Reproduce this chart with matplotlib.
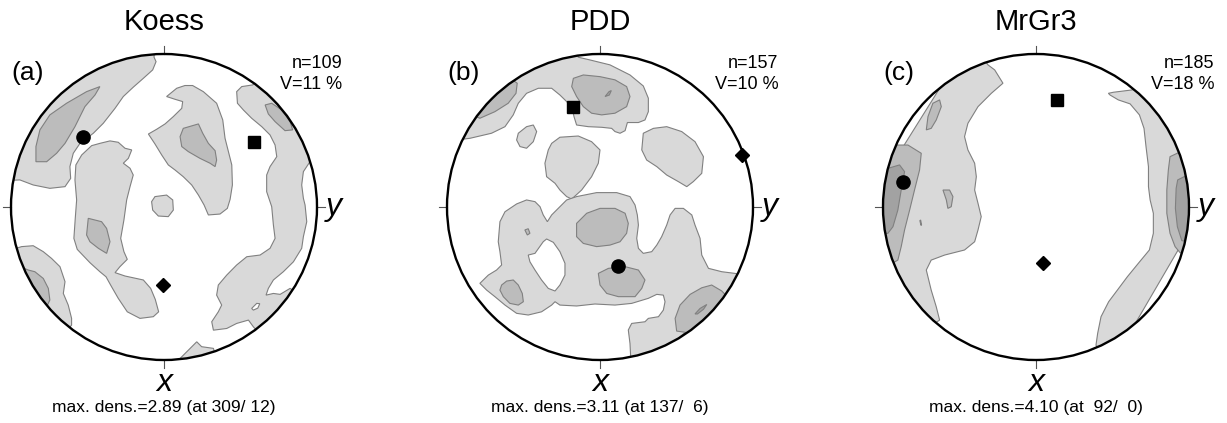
import numpy as np
import matplotlib
matplotlib.use('Agg')
import matplotlib.pyplot as plt
from matplotlib.patches import Polygon, Circle

plt.rcParams['font.family'] = ['Liberation Sans', 'DejaVu Sans']

# digitised contour outlines, lower-hemisphere net, net radius = 100
# ---------------- Koess ----------------
koess_light = [
    [(-6.5, 97.9), (-5.2, 95.0), (-7.4, 89.6), (-13.5, 84.1), (-20.1, 78.3), (-26.6, 72.2),
     (-32.0, 64.5), (-39.7, 54.7), (-46.2, 48.2), (-54.9, 41.6), (-59.3, 35.1), (-61.5, 26.4),
     (-61.0, 18.7), (-64.7, 13.3), (-74.6, 12.2), (-85.5, 14.4), (-94.2, 17.7),
     (-110, 17), (-110, 110), (-6, 110)],
    [(-47.3, 40.1), (-41.9, 41.6), (-35.3, 43.2), (-29.9, 42.3), (-25.5, 38.4), (-21.1, 37.3),
     (-23.3, 31.8), (-26.6, 28.6), (-22.2, 25.3), (-20.1, 20.9), (-22.2, 13.3), (-24.4, 4.6),
     (-26.2, -8.5), (-28.3, -20.5), (-26.2, -29.2), (-24.0, -34.2), (-28.8, -39.0), (-32.0, -42.9),
     (-25.5, -45.1), (-13.5, -47.7), (-8.7, -53.2), (-5.7, -60.4), (-3.5, -68.5), (-7.0, -71.7),
     (-15.7, -72.8), (-24.0, -68.5), (-29.9, -59.7), (-34.9, -51.0), (-37.9, -45.6), (-41.9, -42.3),
     (-48.4, -36.4), (-56.7, -27.7), (-58.9, -20.5), (-58.0, -7.4), (-57.1, 4.6), (-58.2, 17.7),
     (-57.6, 27.5), (-53.8, 34.0)],
    [(1.7, 72.2), (8.3, 77.6), (13.7, 79.4), (18.7, 79.4), (25.7, 75.4), (34.4, 67.8), (38.4, 56.9),
     (39.9, 44.9), (42.1, 36.2), (44.3, 27.5), (44.7, 14.4), (43.2, 5.0), (41.4, -0.9), (36.6, -4.6),
     (29.0, -5.2), (26.2, 1.3), (22.5, 7.8), (18.1, 14.4), (12.6, 19.8), (7.2, 24.2), (2.8, 27.5),
     (-1.5, 34.0), (-5.9, 41.2), (-10.2, 47.7), (-4.8, 50.8), (0.7, 54.3), (6.1, 59.1),
     (11.6, 64.5), (12.2, 68.9), (7.2, 70.4)],
    [(-5.9, 6.8), (1.7, 7.8), (5.7, 4.6), (6.1, -2.0), (2.8, -6.3), (-3.7, -5.9), (-7.4, -2.0), (-8.1, 3.5)],
    [(47.5, 75.4), (50.8, 78.7), (58.0, 79.8), (67.1, 87.4), (108.6, 39.5), (95.0, 29.0), (91.1, 23.1),
     (90.0, 14.4), (91.1, 5.7), (92.2, 1.3), (93.3, -9.6), (91.1, -19.4), (90.0, -27.0), (84.6, -35.8),
     (78.0, -42.3), (71.5, -47.7), (68.2, -53.2), (66.7, -57.6), (71.5, -56.5), (75.9, -57.1),
     (82.4, -53.2), (99.8, -64.1), (69.3, -90.3), (58.4, -78.3), (55.2, -73.9), (47.5, -76.1),
     (41.0, -79.4), (32.3, -80.5), (31.2, -75.0), (35.5, -68.5), (37.7, -64.1), (34.4, -57.6),
     (35.5, -51.0), (41.0, -44.5), (47.5, -37.9), (54.1, -32.5), (62.8, -31.4), (69.3, -27.0),
     (72.6, -20.5), (71.5, -11.8), (70.4, 0.2), (67.1, 10.0), (67.1, 20.9), (69.3, 26.4),
     (73.7, 32.9), (72.6, 40.5), (69.3, 47.1), (63.9, 52.5), (57.3, 58.0), (51.9, 63.4), (48.0, 67.8)],
    [(-93.1, -25.9), (-85.5, -25.3), (-78.9, -29.2), (-73.5, -33.6), (-68.0, -39.0), (-64.7, -48.8),
     (-65.8, -56.5), (-62.6, -64.1), (-60.4, -72.8), (-60.4, -77.2), (-74.6, -93.5), (-107, -30.3)],
    [(10.5, -99.0), (21.4, -88.1), (24.6, -91.3), (32.3, -92.4), (36.6, -106.6), (6.1, -106.6)],
]
koess_holes = [
    [(57.3, -66.3), (60.6, -63.0), (62.6, -63.2), (61.3, -66.1), (58.4, -67.4)],
]
koess_mid = [
    [(-41.9, 78.7), (-50.6, 75.4), (-63.7, 67.8), (-74.6, 60.2), (-81.1, 50.4), (-83.7, 39.5),
     (-83.7, 29.6), (-76.7, 29.6), (-70.2, 35.1), (-64.7, 41.6), (-58.2, 52.5), (-51.7, 65.6), (-45.1, 73.2)],
    [(-49.5, -7.4), (-40.8, -9.6), (-37.5, -14.0), (-35.3, -22.7), (-37.5, -30.3), (-42.9, -27.0),
     (-48.4, -22.7), (-50.6, -18.3)],
    [(12.6, 51.4), (22.5, 54.3), (25.3, 48.2), (29.0, 41.6), (33.4, 36.8), (34.4, 30.7), (33.4, 26.4),
     (30.1, 28.6), (23.5, 31.8), (15.9, 36.2), (11.6, 39.5), (10.5, 46.0)],
    [(66.1, 66.7), (70.4, 67.8), (77.0, 63.4), (82.4, 55.8), (84.1, 50.4), (79.1, 49.9), (72.6, 55.8), (68.2, 60.8)],
    [(-88.7, -41.2), (-84.4, -42.3), (-78.9, -46.7), (-75.6, -53.2), (-74.6, -60.8), (-76.7, -65.2),
     (-94.2, -60.8), (-94.2, -39.0)],
]
koess_dark = []
koess_marks = {'o': (-52.8, 46.0), 's': (58.9, 42.7), 'D': (-0.4, -51.0)}

# ---------------- PDD ----------------
pdd_light = [
    [(-93.7, 43.8), (-91.6, 91.8), (-19.6, 113.6), (-14.2, 97.9), (-6.5, 96.1), (6.5, 92.9),
     (19.6, 86.3), (28.3, 79.1), (31.6, 71.1), (31.6, 62.3), (29.4, 56.9), (25.1, 55.2), (17.9, 55.2),
     (16.4, 49.9), (13.1, 48.2), (9.8, 49.3), (7.6, 51.4), (1.1, 52.1), (-7.6, 52.5), (-15.3, 53.6),
     (-17.0, 59.1), (-18.1, 64.5), (-21.8, 68.9), (-26.2, 73.2), (-31.6, 77.6), (-40.3, 77.6),
     (-48.0, 74.3), (-53.4, 67.8), (-56.7, 60.2), (-62.1, 52.5), (-70.9, 48.2), (-85.0, 44.9)],
    [(-53.4, 48.2), (-48.0, 52.5), (-43.6, 53.6), (-41.4, 49.3), (-43.6, 42.7), (-48.0, 38.4),
     (-52.3, 39.5), (-54.5, 43.8)],
    [(-31.6, 41.6), (-26.2, 45.6), (-14.2, 46.4), (-5.5, 42.7), (0.0, 37.3), (-1.1, 28.6), (-5.5, 19.8),
     (-12.0, 11.1), (-18.5, 5.2), (-21.8, 6.8), (-26.2, 11.1), (-29.4, 15.5), (-34.9, 19.8),
     (-36.0, 28.6), (-33.8, 37.3)],
    [(28.3, 48.2), (34.9, 51.4), (43.6, 52.5), (53.4, 49.3), (62.1, 42.7), (67.6, 32.9), (66.5, 22.0),
     (61.0, 16.6), (56.7, 13.3), (51.2, 16.6), (43.6, 20.9), (37.1, 26.4), (30.5, 30.7), (27.3, 37.3)],
    [(-65.4, -9.6), (-62.1, -3.1), (-54.5, 2.0), (-48.0, 4.6), (-42.5, 3.5), (-39.2, 0.2), (-37.1, -5.2),
     (-34.4, -9.6), (-31.6, -5.2), (-27.3, -0.9), (-21.8, 4.6), (-15.3, 6.8), (-2.2, 9.4), (10.9, 9.4),
     (19.6, 6.8), (22.9, 1.3), (24.4, -5.2), (25.1, -11.8), (24.0, -20.5), (25.1, -27.0), (28.3, -30.3),
     (33.8, -29.2), (37.1, -24.9), (40.3, -19.4), (43.6, -11.8), (45.8, -5.2), (49.1, -0.9), (54.5, -0.9),
     (60.0, -5.2), (62.1, -11.8), (65.4, -20.5), (66.5, -31.4), (70.9, -40.1), (79.6, -42.3),
     (88.3, -43.4), (95.9, -45.6), (28.3, -106.6), (20.1, -99.0), (19.6, -89.2), (18.5, -80.4),
     (20.7, -76.1), (29.4, -75.0), (31.6, -72.8), (38.2, -71.7), (41.4, -67.4), (42.5, -61.9),
     (41.4, -57.6), (37.1, -57.1), (31.6, -59.7), (20.7, -63.0), (9.8, -64.1), (-3.3, -63.4),
     (-15.3, -64.7), (-26.2, -64.1), (-29.4, -61.9), (-31.6, -64.1), (-38.2, -68.5), (-46.9, -70.6),
     (-54.5, -69.5), (-62.1, -64.1), (-68.7, -58.6), (-74.1, -54.3), (-78.5, -49.9), (-73.0, -44.5),
     (-67.6, -41.2), (-64.3, -37.9), (-65.4, -29.2), (-66.5, -22.7)],
]
pdd_holes = [
    [(-46.9, -31.4), (-42.5, -30.3), (-37.1, -22.7), (-34.9, -20.9), (-30.5, -23.1), (-26.2, -29.2),
     (-22.9, -36.8), (-22.9, -44.5), (-26.2, -51.0), (-29.4, -54.9), (-33.8, -53.2), (-38.2, -47.7),
     (-42.5, -41.2), (-45.8, -35.8)],
]
pdd_mid = [
    [(-78.5, 58.0), (-68.7, 62.3), (-60.0, 67.8), (-54.9, 74.3), (-54.1, 80.9), (-69.8, 91.8), (-91.6, 63.4)],
    [(-17.4, 84.1), (-10.9, 86.3), (0.0, 85.2), (9.8, 83.1), (17.4, 78.7), (19.6, 72.2), (17.4, 65.6),
     (9.8, 61.3), (1.1, 60.2), (-5.5, 61.3), (-10.9, 65.6), (-15.3, 72.2), (-18.5, 78.7)],
    [(-15.3, -10.7), (-8.7, -4.1), (0.0, -0.9), (9.8, -0.9), (16.4, -4.1), (18.5, -10.7), (17.4, -17.2),
     (13.1, -22.7), (6.5, -24.9), (-2.2, -25.9), (-10.9, -23.8), (-15.3, -19.4)],
    [(-1.1, -43.4), (5.5, -40.1), (16.4, -39.0), (25.1, -41.2), (29.4, -47.7), (27.3, -53.2),
     (22.9, -58.6), (12.0, -58.6), (4.4, -56.5), (0.0, -51.0)],
    [(49.1, -72.8), (52.3, -64.1), (58.9, -57.1), (66.5, -52.8), (73.0, -51.0), (79.6, -54.9),
     (88.3, -64.1), (66.5, -90.3), (57.8, -82.2), (50.1, -81.1)],
    [(-64.3, -51.0), (-61.0, -48.4), (-56.7, -47.7), (-53.4, -51.0), (-50.8, -56.5), (-50.1, -61.9),
     (-53.4, -64.1), (-58.9, -63.0), (-63.2, -58.6), (-65.4, -54.3)],
    [(-49.1, -15.0), (-46.9, -14.2), (-45.8, -17.2), (-47.5, -18.3)],
]
pdd_dark = [
    [(3.3, 72.2), (5.9, 75.4), (7.4, 76.1), (6.1, 73.2)],
    [(62.1, -69.9), (65.4, -66.3), (69.8, -63.7), (67.6, -66.9), (63.7, -69.9)],
]
pdd_marks = {'o': (12.0, -38.4), 's': (-17.9, 65.2), 'D': (93.1, 34.0)}

# ---------------- MrGr3 ----------------
mrgr_light = [
    [(-31.4, 92.9), (-27.0, 89.6), (-21.6, 80.9), (-29.2, 74.3), (-37.9, 65.6), (-44.5, 54.7),
     (-46.7, 46.0), (-44.5, 37.3), (-40.1, 28.6), (-39.0, 19.8), (-40.1, 11.1), (-37.9, 2.4),
     (-35.8, -6.3), (-37.9, -15.0), (-40.1, -22.7), (-46.7, -28.1), (-59.7, -31.4), (-68.5, -34.7),
     (-71.7, -41.2), (-68.5, -54.3), (-65.2, -65.2), (-63.0, -73.9), (-75.9, -82.6),
     (-108.6, 4.6), (-43.2, 109.2)],
    [(47.3, 74.3), (50.6, 75.0), (62.6, 76.5), (76.7, 80.9), (109.4, 0.2), (48.4, -104.4),
     (39.2, -90.3), (40.3, -82.6), (42.5, -71.7), (47.5, -61.9), (53.2, -54.3), (59.7, -45.6),
     (66.9, -36.8), (74.1, -28.1), (76.7, -17.2), (76.7, -4.1), (74.6, 4.6), (73.5, 13.3),
     (73.5, 26.4), (71.9, 39.5), (70.6, 51.4), (67.6, 60.2), (61.5, 67.4), (53.8, 70.0), (48.4, 73.2)],
]
mrgr_holes = []
mrgr_mid = [
    [(-91.3, 40.5), (-83.7, 40.5), (-75.0, 35.1), (-76.1, 24.2), (-79.4, 11.1), (-82.6, -2.0),
     (-85.9, -15.0), (-88.1, -25.9), (-90.3, -34.7), (-97.7, -39.0), (-108.6, 4.6), (-97.7, 41.6)],
    [(-71.7, 50.4), (-70.6, 59.1), (-67.4, 67.8), (-63.0, 70.0), (-61.9, 65.6), (-65.2, 56.9), (-68.5, 51.4)],
    [(-60.8, 11.1), (-56.5, 11.1), (-54.3, 6.8), (-55.4, 0.2), (-57.6, -0.9), (-58.6, 4.6)],
    [(-75.4, -8.5), (-74.8, -11.8), (-75.2, -12.0), (-75.9, -8.9)],
    [(87.6, 32.9), (93.1, 35.5), (109.4, 37.3), (109.4, -34.7), (94.2, -29.9), (90.9, -25.9),
     (87.6, -17.2), (85.5, -4.1), (85.5, 11.1), (86.5, 24.2)],
]
mrgr_dark = [
    [(-96.6, 25.3), (-89.2, 27.5), (-85.9, 23.1), (-88.1, 11.1), (-90.3, -2.0), (-93.5, -12.9),
     (-96.8, -17.2), (-110, -18), (-110, 26)],
    [(92.6, 17.7), (96.8, 19.8), (109.4, 19.8), (109.4, -23.8), (95.3, -22.0), (92.4, -12.9),
     (91.1, -0.9), (91.6, 12.2)],
]
mrgr_marks = {'o': (-86.8, 16.6), 's': (14.0, 70.0), 'D': (4.8, -36.8)}

titles = ['Koess', 'PDD', 'MrGr3']
letters = ['(a)', '(b)', '(c)']
n_values = [109, 157, 185]
v_values = [11, 10, 18]
max_dens = ['max. dens.=2.89 (at 309/ 12)', 'max. dens.=3.11 (at 137/  6)', 'max. dens.=4.10 (at  92/  0)']

LIGHT = '#d9d9d9'
MID = '#bcbcbc'
DARK = '#a2a2a2'
EDGE = '#808080'


def draw_net(ax, title, letter, n, v, dens, light, holes, mid, dark, marks):
    rim = Circle((0, 0), 1.0, fill=False, edgecolor='none')
    ax.add_patch(rim)
    layers = [(light, LIGHT), (holes, 'white'), (mid, MID), (dark, DARK)]
    for polys, color in layers:
        for pts in polys:
            p = Polygon(np.array(pts) / 100.0, closed=True, facecolor=color,
                        edgecolor=EDGE, linewidth=0.8)
            ax.add_patch(p)
            p.set_clip_path(rim)
    ax.add_patch(Circle((0, 0), 1.0, fill=False, edgecolor='black', linewidth=1.7, zorder=5))
    tk = 0.05
    for x0, y0, x1, y1 in [(0, 1, 0, 1 + tk), (0, -1, 0, -1 - tk), (1, 0, 1 + tk, 0), (-1, 0, -1 - tk, 0)]:
        ax.plot([x0, x1], [y0, y1], color='#555555', lw=0.8, zorder=4)
    ax.plot(*np.array(marks['o']) / 100, 'o', color='black', ms=9.5, zorder=6)
    ax.plot(*np.array(marks['s']) / 100, 's', color='black', ms=8.5, zorder=6)
    ax.plot(*np.array(marks['D']) / 100, 'D', color='black', ms=7.5, zorder=6)

    ax.text(0, 1.21, title, ha='center', va='center', fontsize=21)
    ax.text(-1.0, 0.876, letter, ha='left', va='center', fontsize=19)
    ax.text(1.165, 0.935, f'n={n}', ha='right', va='center', fontsize=13)
    ax.text(1.165, 0.80, f'V={v} %', ha='right', va='center', fontsize=13)
    ax.text(0, -1.15, 'x', ha='center', va='center', fontsize=23, style='italic')
    ax.text(1.06, 0.0, 'y', ha='left', va='center', fontsize=23, style='italic')
    ax.text(0, -1.31, dens, ha='center', va='center', fontsize=12.5)


fig = plt.figure(figsize=(12.27, 4.23), dpi=100)
panels = [
    (koess_light, koess_holes, koess_mid, koess_dark, koess_marks),
    (pdd_light, pdd_holes, pdd_mid, pdd_dark, pdd_marks),
    (mrgr_light, mrgr_holes, mrgr_mid, mrgr_dark, mrgr_marks),
]
centres = [164, 600, 1036]
scale = 153.0
for i, (light, holes, mid, dark, marks) in enumerate(panels):
    cx = centres[i]
    ax = fig.add_axes([(cx - 218) / 1227, 0, 436 / 1227, 1])
    ax.set_xlim(-218 / scale, 218 / scale)
    ax.set_ylim(-216 / scale, 207 / scale)
    ax.axis('off')
    draw_net(ax, titles[i], letters[i], n_values[i], v_values[i], max_dens[i],
             light, holes, mid, dark, marks)

fig.savefig('out.png', dpi=100)
